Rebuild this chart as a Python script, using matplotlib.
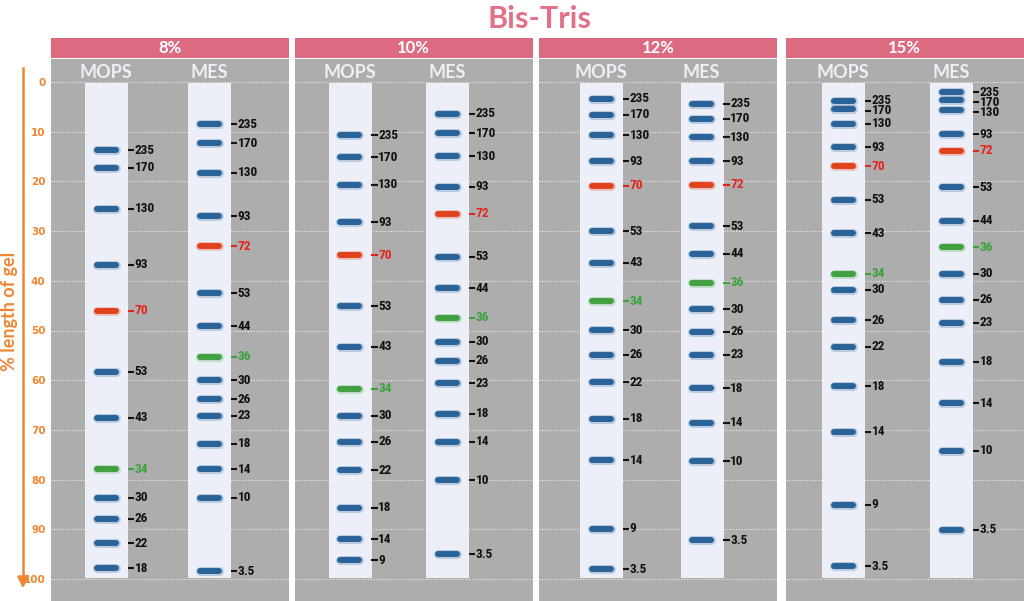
import matplotlib.pyplot as plt
from matplotlib import font_manager
from matplotlib.patches import Rectangle

# marker ladders, position = % length of gel
gels = ["8%", "10%", "12%", "15%"]

mops_labels_8 = ["235", "170", "130", "93", "70", "53", "43", "34", "30", "26", "22", "18"]
mops_pos_8 = [13.7, 17.3, 25.5, 36.8, 46.0, 58.3, 67.6, 77.9, 83.7, 87.9, 92.8, 97.8]
mes_labels_8 = ["235", "170", "130", "93", "72", "53", "44", "36", "30", "26", "23", "18", "14", "10", "3.5"]
mes_pos_8 = [8.5, 12.3, 18.3, 27.0, 33.0, 42.5, 49.1, 55.3, 60.0, 63.8, 67.2, 72.8, 77.9, 83.7, 98.4]

mops_labels_10 = ["235", "170", "130", "93", "70", "53", "43", "34", "30", "26", "22", "18", "14", "9"]
mops_pos_10 = [10.7, 15.1, 20.7, 28.2, 34.9, 45.1, 53.3, 61.7, 67.2, 72.4, 78.1, 85.7, 92.0, 96.2]
mes_labels_10 = ["235", "170", "130", "93", "72", "53", "44", "36", "30", "26", "23", "18", "14", "10", "3.5"]
mes_pos_10 = [6.4, 10.3, 14.9, 21.1, 26.5, 35.2, 41.5, 47.4, 52.3, 56.1, 60.6, 66.8, 72.4, 80.1, 95.0]

mops_labels_12 = ["235", "170", "130", "93", "70", "53", "43", "34", "30", "26", "22", "18", "14", "9", "3.5"]
mops_pos_12 = [3.4, 6.6, 10.7, 15.9, 20.9, 30.0, 36.4, 44.1, 49.9, 54.9, 60.4, 67.8, 76.1, 89.9, 98.0]
mes_labels_12 = ["235", "170", "130", "93", "72", "53", "44", "36", "30", "26", "23", "18", "14", "10", "3.5"]
mes_pos_12 = [4.4, 7.4, 11.1, 15.9, 20.7, 29.0, 34.6, 40.4, 45.7, 50.3, 54.9, 61.6, 68.6, 76.3, 92.2]

mops_labels_15 = ["235", "170", "130", "93", "70", "53", "43", "34", "30", "26", "22", "18", "14", "9", "3.5"]
mops_pos_15 = [3.8, 5.5, 8.4, 13.1, 17.0, 23.7, 30.4, 38.6, 41.8, 47.9, 53.3, 61.2, 70.4, 85.1, 97.4]
mes_labels_15 = ["235", "170", "130", "93", "72", "53", "44", "36", "30", "26", "23", "18", "14", "10", "3.5"]
mes_pos_15 = [2.1, 3.7, 5.7, 10.5, 13.8, 21.2, 27.9, 33.2, 38.6, 43.8, 48.4, 56.3, 64.6, 74.2, 90.1]

lanes = [
    (mops_labels_8, mops_pos_8, mes_labels_8, mes_pos_8),
    (mops_labels_10, mops_pos_10, mes_labels_10, mes_pos_10),
    (mops_labels_12, mops_pos_12, mes_labels_12, mes_pos_12),
    (mops_labels_15, mops_pos_15, mes_labels_15, mes_pos_15),
]

# layout in pixels
W, H = 1024, 601
panel_left = [51, 294.5, 539, 785.5]
panel_w = 238
mops_x = [34, 34, 41, 36.5]
mes_x = [137, 131.5, 141.5, 144.5]
lane_w = 42
y0_px, px_per_unit = 82, 4.97

orange = "#EE8633"
pink = "#DC6A80"
grey = "#ADADAD"
lane_col = "#ECEFF7"
band_col = {"blue": "#2A6398", "red": "#E0421E", "green": "#41A040"}
text_col = {"blue": "#111111", "red": "#E5251B", "green": "#3AA33A"}
head_font = ["Lato", "DejaVu Sans"]

# condensed face for the size numbers, if there is one
have = {(f.name, f.stretch) for f in font_manager.fontManager.ttflist}
names = {n for n, s in have}
num_kw = dict(family=["DejaVu Sans"])
if "Liberation Sans Narrow" in names:
    num_kw = dict(family=["Liberation Sans Narrow", "DejaVu Sans"])
elif "Roboto Condensed" in names:
    num_kw = dict(family=["Roboto Condensed", "DejaVu Sans"])
elif ("DejaVu Sans", "condensed") in have or ("DejaVu Sans", "semi-condensed") in have:
    num_kw = dict(family=["DejaVu Sans"], fontstretch="condensed")


def band_kind(lbl):
    if lbl in ("70", "72"):
        return "red"
    if lbl in ("34", "36"):
        return "green"
    return "blue"


def fig_box(left, top, w, h):
    return [left / W, 1 - (top + h) / H, w / W, h / H]


fig = plt.figure(figsize=(W / 100, H / 100), dpi=100)

fig.text(539 / W, 1 - 19 / H, "Bis-Tris", ha="center", va="center",
         fontsize=22, fontweight="bold", color="#E27089", family=head_font)

top_px, bot_px = 59, 601
ylim = ((bot_px - y0_px) / px_per_unit, (top_px - y0_px) / px_per_unit)

for i, gel in enumerate(gels):
    # pink header bar
    hx = fig.add_axes(fig_box(panel_left[i], 38, panel_w, 19.5))
    hx.set_facecolor(pink)
    hx.set_xticks([])
    hx.set_yticks([])
    for s in hx.spines.values():
        s.set_visible(False)
    hx.text(0.5, 0.48, gel, transform=hx.transAxes, ha="center", va="center",
            color="white", fontsize=12, fontweight="bold", family=head_font)

    ax = fig.add_axes(fig_box(panel_left[i], top_px, panel_w, bot_px - top_px))
    ax.set_facecolor(grey)
    ax.set_xlim(0, panel_w)
    ax.set_ylim(*ylim)
    for s in ax.spines.values():
        s.set_visible(False)
    ax.set_xticks([])
    ax.hlines(range(0, 101, 10), 0, panel_w, colors="white", linestyles=(0, (1, 1.6)),
              linewidth=0.8, alpha=0.85, zorder=1)

    if i == 0:
        ax.set_yticks(range(0, 101, 10))
        ax.tick_params(axis="y", length=0, pad=4, labelcolor=orange, labelsize=7.5)
        for t in ax.get_yticklabels():
            t.set_fontweight("bold")
    else:
        ax.set_yticks([])

    mops_lbl, mops_pos, mes_lbl, mes_pos = lanes[i]
    for name, lx, lbls, pos in [("MOPS", mops_x[i], mops_lbl, mops_pos),
                                 ("MES", mes_x[i], mes_lbl, mes_pos)]:
        ax.add_patch(Rectangle((lx, 0.2), lane_w, 99.3, facecolor=lane_col,
                               edgecolor="#F6F7FB", linewidth=0.6, zorder=2))
        ax.text(lx + lane_w / 2, -2.0, name, ha="center", va="center", color="#EEF0F5",
                fontsize=13, fontweight="bold", family=head_font, zorder=3)
        cx = lx + lane_w / 2
        rx = lx + lane_w
        last = -10
        for lbl, p in zip(lbls, pos):
            kind = band_kind(lbl)
            # soft halo then the band itself
            ax.plot([cx - 9.5, cx + 9.5], [p, p], color=band_col[kind], linewidth=6.5,
                    alpha=0.25, solid_capstyle="round", zorder=3)
            ax.plot([cx - 9.5, cx + 9.5], [p, p], color=band_col[kind], linewidth=4.3,
                    solid_capstyle="round", zorder=4)
            ty = max(p, last + 2.0)
            last = ty
            ax.plot([rx + 0.7, rx + 7.0], [ty, ty], color=text_col[kind], linewidth=1.5,
                    solid_capstyle="butt", zorder=4)
            ax.text(rx + 7.6, ty, lbl, ha="left", va="center", color=text_col[kind],
                    fontsize=9.5, fontweight="bold", zorder=4, **num_kw)

fig.text(10 / W, 1 - 311 / H, "% length of gel", rotation=90, ha="center", va="center",
         color=orange, fontsize=13, fontweight="bold", family=head_font)
fig.add_artist(plt.Line2D([23 / W, 23 / W], [1 - 68 / H, 1 - 582 / H], color=orange,
                          linewidth=1.8))
ax0 = fig.axes[1]
ax0.annotate("", xy=(23, H - 591), xytext=(23, H - 575), xycoords="figure pixels",
             textcoords="figure pixels",
             arrowprops=dict(arrowstyle="-|>", color=orange, lw=1.8, mutation_scale=16))

fig.savefig("out.png", dpi=100)
